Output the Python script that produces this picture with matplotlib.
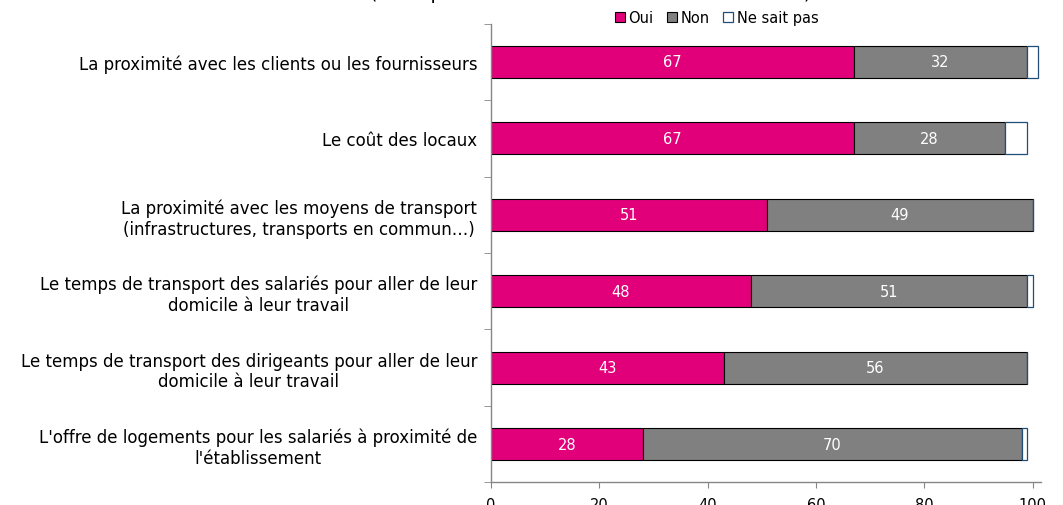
import matplotlib
matplotlib.use('Agg')
import matplotlib.pyplot as plt
import numpy as np

categories = [
    "La proximité avec les clients ou les fournisseurs",
    "Le coût des locaux",
    "La proximité avec les moyens de transport\n(infrastructures, transports en commun…)",
    "Le temps de transport des salariés pour aller de leur\ndomicile à leur travail",
    "Le temps de transport des dirigeants pour aller de leur\ndomicile à leur travail",
    "L'offre de logements pour les salariés à proximité de\nl'établissement",
]
oui = [67, 67, 51, 48, 43, 28]
non = [32, 28, 49, 51, 56, 70]
nsp = [2, 4, 0, 1, 0, 1]
series_names = ['Oui', 'Non', 'Ne sait pas']
x_ticks = [0, 20, 40, 60, 80, 100]

PINK = '#E2007A'
GREY = '#808080'
AXIS = '#868686'

fig = plt.figure(figsize=(10.63, 5.06), dpi=100)
ax = fig.add_axes([0.462, 0.045, 0.517, 0.906])

y = np.arange(len(categories))
h = 0.42
oui_a = np.array(oui)
non_a = np.array(non)
nsp_a = np.array(nsp)

b1 = ax.barh(y, oui_a, height=h, color=PINK, edgecolor='black', linewidth=0.8,
             label=series_names[0])
b2 = ax.barh(y, non_a, left=oui_a, height=h, color=GREY, edgecolor='black',
             linewidth=0.8, label=series_names[1])
b3 = ax.barh(y, nsp_a, left=oui_a + non_a, height=h, color='white',
             edgecolor='#1F4E79', linewidth=0.9, label=series_names[2])

# value labels for Oui / Non
for i in range(len(categories)):
    ax.text(oui_a[i] / 2, y[i], str(oui[i]), ha='center', va='center',
            color='white', fontsize=10.5)
    ax.text(oui_a[i] + non_a[i] / 2, y[i], str(non[i]), ha='center',
            va='center', color='white', fontsize=10.5)

ax.set_ylim(len(categories) - 0.5, -0.5)
ax.set_xlim(0, 101.5)
ax.set_xticks(x_ticks)
ax.set_xticklabels([str(t) for t in x_ticks], fontsize=10.5)
ax.set_yticks(y)
ax.set_yticklabels(categories, fontsize=12, ha='right', multialignment='center')
ax.tick_params(axis='y', which='major', length=0, pad=10)
ax.set_yticks(np.arange(-0.5, len(categories) + 0.5, 1), minor=True)
ax.tick_params(axis='y', which='minor', length=5, color=AXIS, direction='out')
ax.tick_params(axis='x', length=4, color=AXIS, direction='out', pad=6.5)

for s in ['top', 'right']:
    ax.spines[s].set_visible(False)
for s in ['left', 'bottom']:
    ax.spines[s].set_color(AXIS)
    ax.spines[s].set_linewidth(1.0)

fig.legend(handles=[b1, b2, b3], loc='center', bbox_to_anchor=(0.674, 0.963),
           ncol=3, frameon=False, fontsize=10.5, handlelength=0.7,
           handleheight=0.7, handletextpad=0.25, columnspacing=0.9)

fig.text(0.556, 1.014, '(en % pondéré en nombre des établissements)',
         ha='center', va='center', fontsize=13.5)

fig.savefig('out.png', dpi=100, facecolor='white')
